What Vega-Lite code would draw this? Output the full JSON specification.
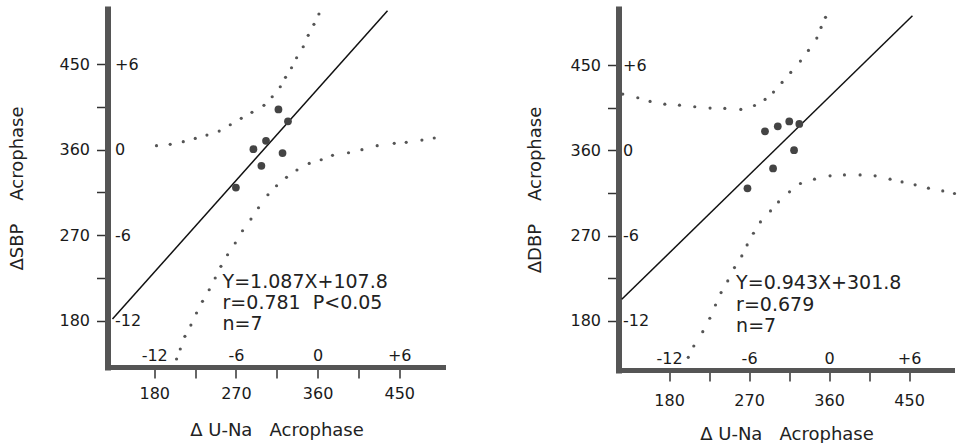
{
  "$schema": "https://vega.github.io/schema/vega-lite/v6.json",
  "background": "white",
  "padding": {"left": 8.5, "top": 7, "right": 0, "bottom": 0},
  "config": {
    "view": {"stroke": null},
    "font": "DejaVu Sans",
    "axis": {"grid": false, "labelFont": "DejaVu Sans", "titleFont": "DejaVu Sans", "labelColor": "#1a1a1a", "titleColor": "#222", "titleFontWeight": "normal", "labelFlush": false, "labelOverlap": false}
  },
  "datasets": {
    "sbp_pts": [
      {"x": 270.0, "y": 320.1}, {"x": 289.3, "y": 360.4}, {"x": 298.1, "y": 342.9}, {"x": 303.2, "y": 369.2},
      {"x": 316.9, "y": 402.3}, {"x": 321.4, "y": 356.4}, {"x": 327.4, "y": 389.7}
    ],
    "sbp_fit": [{"x": 134.0, "y": 181.7}, {"x": 437.1, "y": 506.1}],
    "sbp_band": [
      {"x": 182.5, "y": 364.1}, {"x": 197.6, "y": 365.5}, {"x": 212.0, "y": 368.3}, {"x": 225.2, "y": 371.8},
      {"x": 238.1, "y": 375.3}, {"x": 251.6, "y": 379.5}, {"x": 263.8, "y": 386.1}, {"x": 275.9, "y": 392.9},
      {"x": 287.7, "y": 399.2}, {"x": 300.9, "y": 406.6}, {"x": 310.0, "y": 415.6}, {"x": 318.9, "y": 426.1},
      {"x": 324.7, "y": 436.0}, {"x": 331.3, "y": 446.1}, {"x": 336.9, "y": 456.6}, {"x": 344.2, "y": 468.2},
      {"x": 349.7, "y": 480.2}, {"x": 356.0, "y": 491.8}, {"x": 361.5, "y": 502.6},
      {"x": 204.6, "y": 139.7}, {"x": 208.7, "y": 150.2}, {"x": 213.8, "y": 163.6}, {"x": 220.4, "y": 175.4},
      {"x": 226.6, "y": 188.1}, {"x": 233.2, "y": 200.4}, {"x": 240.6, "y": 212.6}, {"x": 247.2, "y": 224.9},
      {"x": 253.5, "y": 237.2}, {"x": 260.8, "y": 249.4}, {"x": 269.3, "y": 261.7}, {"x": 277.3, "y": 274.6},
      {"x": 286.6, "y": 286.9}, {"x": 294.9, "y": 298.8}, {"x": 305.3, "y": 312.5}, {"x": 314.8, "y": 322.0},
      {"x": 325.8, "y": 330.8}, {"x": 337.3, "y": 338.5}, {"x": 350.8, "y": 345.5}, {"x": 364.0, "y": 349.3},
      {"x": 376.5, "y": 354.0}, {"x": 394.1, "y": 356.7}, {"x": 408.9, "y": 359.9}, {"x": 425.7, "y": 364.1},
      {"x": 444.5, "y": 366.6}, {"x": 457.7, "y": 367.6}, {"x": 475.0, "y": 370.0}, {"x": 488.6, "y": 372.2}
    ],
    "dbp_pts": [
      {"x": 268.2, "y": 319.9}, {"x": 287.9, "y": 380.1}, {"x": 297.0, "y": 340.9}, {"x": 302.3, "y": 385.4},
      {"x": 315.2, "y": 390.5}, {"x": 320.6, "y": 360.2}, {"x": 326.5, "y": 387.9}
    ],
    "dbp_fit": [{"x": 126.8, "y": 202.8}, {"x": 453.8, "y": 502.1}],
    "dbp_band": [
      {"x": 127.9, "y": 419.4}, {"x": 144.8, "y": 415.5}, {"x": 158.6, "y": 411.7}, {"x": 175.2, "y": 408.8},
      {"x": 191.7, "y": 407.7}, {"x": 208.9, "y": 406.0}, {"x": 226.1, "y": 404.6}, {"x": 242.7, "y": 404.3},
      {"x": 260.7, "y": 403.2}, {"x": 276.1, "y": 407.4}, {"x": 288.0, "y": 413.8}, {"x": 297.5, "y": 421.5},
      {"x": 307.1, "y": 431.7}, {"x": 316.9, "y": 442.3}, {"x": 327.8, "y": 454.2}, {"x": 336.8, "y": 465.5},
      {"x": 346.2, "y": 478.5}, {"x": 351.0, "y": 489.8}, {"x": 356.0, "y": 500.4},
      {"x": 201.6, "y": 141.6}, {"x": 207.8, "y": 153.5}, {"x": 217.9, "y": 168.7}, {"x": 225.8, "y": 182.8},
      {"x": 232.2, "y": 196.8}, {"x": 238.5, "y": 209.9}, {"x": 246.0, "y": 222.2}, {"x": 253.6, "y": 236.3},
      {"x": 261.8, "y": 248.6}, {"x": 267.8, "y": 260.2}, {"x": 274.9, "y": 272.5}, {"x": 282.8, "y": 284.5},
      {"x": 294.1, "y": 296.1}, {"x": 303.1, "y": 305.6}, {"x": 315.5, "y": 316.2}, {"x": 327.8, "y": 325.0},
      {"x": 343.6, "y": 329.6}, {"x": 361.1, "y": 333.1}, {"x": 377.3, "y": 334.1}, {"x": 394.9, "y": 334.1},
      {"x": 411.8, "y": 333.1}, {"x": 428.6, "y": 329.6}, {"x": 442.1, "y": 326.7}, {"x": 456.8, "y": 323.6},
      {"x": 471.8, "y": 320.1}, {"x": 487.9, "y": 317.2}, {"x": 501.1, "y": 314.5}
    ]
  },
  "spacing": 81,
  "hconcat": [
    {
      "width": 338,
      "height": 358,
      "layer": [
        {
          "data": {"name": "sbp_band"},
          "mark": {"type": "circle", "size": 10, "color": "#555", "opacity": 1},
          "encoding": {
            "x": {"field": "x", "type": "quantitative", "scale": {"domain": [128.5, 501], "nice": false, "zero": false},
              "axis": {"orient": "bottom", "values": [180, 225, 270, 315, 360, 405, 450], "labelExpr": "datum.value % 90 == 0 ? datum.label : ''",
                "tickSize": 11, "tickWidth": 1.5, "tickColor": "#333", "domainWidth": 5, "domainColor": "#555", "domainCap": "butt",
                "labelFontSize": 16, "labelPadding": 7, "title": "Δ U-Na\u00a0\u00a0\u00a0Acrophase", "titleFontSize": 18, "titlePadding": 20}},
            "y": {"field": "y", "type": "quantitative", "scale": {"domain": [131.3, 507.9], "nice": false, "zero": false},
              "axis": {"orient": "left", "values": [180, 225, 270, 315, 360, 405, 450], "labelExpr": "datum.value % 90 == 0 ? datum.label : ''",
                "tickSize": 11, "tickWidth": 1.5, "tickColor": "#333", "domainWidth": 6, "domainColor": "#555", "domainCap": "square",
                "labelFontSize": 16, "labelPadding": 7, "title": "ΔSBP\u00a0\u00a0\u00a0\u00a0Acrophase", "titleFontSize": 18, "titlePadding": 32}}
          }
        },
        {
          "data": {"name": "sbp_fit"},
          "mark": {"type": "line", "color": "#111", "strokeWidth": 1.5},
          "encoding": {
            "x": {"field": "x", "type": "quantitative",
              "axis": {"orient": "bottom", "values": [180, 270, 360, 450], "labelExpr": "datum.value > 360 ? '+' + (datum.value - 360) / 15 : '' + (datum.value - 360) / 15",
                "ticks": false, "domain": false, "labelBaseline": "alphabetic", "labelPadding": -7, "labelFontSize": 16, "title": null}},
            "y": {"field": "y", "type": "quantitative",
              "axis": {"orient": "left", "values": [180, 270, 360, 450], "labelExpr": "datum.value > 360 ? '+' + (datum.value - 360) / 15 : '' + (datum.value - 360) / 15",
                "ticks": false, "domain": false, "labelAlign": "left", "labelBaseline": "middle", "labelPadding": -7, "labelFontSize": 16, "title": null}}
          }
        },
        {
          "data": {"name": "sbp_pts"},
          "mark": {"type": "circle", "size": 60, "color": "#444", "opacity": 1},
          "encoding": {
            "x": {"field": "x", "type": "quantitative", "axis": null},
            "y": {"field": "y", "type": "quantitative", "axis": null}
          }
        },
        {
          "data": {"values": [{}]},
          "mark": {"type": "text", "align": "left", "baseline": "alphabetic", "fontSize": 19, "lineHeight": 21, "font": "DejaVu Sans", "color": "#222"},
          "encoding": {
            "x": {"datum": 255.3, "type": "quantitative", "axis": null},
            "y": {"datum": 214.8, "type": "quantitative", "axis": null},
            "text": {"value": ["Y=1.087X+107.8", "r=0.781\u00a0\u00a0P<0.05", "n=7"]}
          }
        }
      ],
      "resolve": {"axis": {"x": "independent", "y": "independent"}}
    },
    {
      "width": 336,
      "height": 361,
      "layer": [
        {
          "data": {"name": "dbp_band"},
          "mark": {"type": "circle", "size": 10, "color": "#555", "opacity": 1},
          "encoding": {
            "x": {"field": "x", "type": "quantitative", "scale": {"domain": [123.1, 501.1], "nice": false, "zero": false},
              "axis": {"orient": "bottom", "values": [180, 225, 270, 315, 360, 405, 450], "labelExpr": "datum.value % 90 == 0 ? datum.label : ''",
                "tickSize": 11, "tickWidth": 1.5, "tickColor": "#333", "domainWidth": 5, "domainColor": "#555", "domainCap": "butt",
                "labelFontSize": 16, "labelPadding": 11, "title": "Δ U-Na\u00a0\u00a0\u00a0Acrophase", "titleFontSize": 18, "titlePadding": 17}},
            "y": {"field": "y", "type": "quantitative", "scale": {"domain": [128.2, 509.2], "nice": false, "zero": false},
              "axis": {"orient": "left", "values": [180, 225, 270, 315, 360, 405, 450], "labelExpr": "datum.value % 90 == 0 ? datum.label : ''",
                "tickSize": 11, "tickWidth": 1.5, "tickColor": "#333", "domainWidth": 6, "domainColor": "#555", "domainCap": "square",
                "labelFontSize": 16, "labelPadding": 7, "title": "ΔDBP\u00a0\u00a0\u00a0\u00a0Acrophase", "titleFontSize": 18, "titlePadding": 25}}
          }
        },
        {
          "data": {"name": "dbp_fit"},
          "mark": {"type": "line", "color": "#111", "strokeWidth": 1.5},
          "encoding": {
            "x": {"field": "x", "type": "quantitative",
              "axis": {"orient": "bottom", "values": [180, 270, 360, 450], "labelExpr": "datum.value > 360 ? '+' + (datum.value - 360) / 15 : '' + (datum.value - 360) / 15",
                "ticks": false, "domain": false, "labelBaseline": "alphabetic", "labelPadding": -7, "labelFontSize": 16, "title": null}},
            "y": {"field": "y", "type": "quantitative",
              "axis": {"orient": "left", "values": [180, 270, 360, 450], "labelExpr": "datum.value > 360 ? '+' + (datum.value - 360) / 15 : '' + (datum.value - 360) / 15",
                "ticks": false, "domain": false, "labelAlign": "left", "labelBaseline": "middle", "labelPadding": -4, "labelFontSize": 16, "title": null}}
          }
        },
        {
          "data": {"name": "dbp_pts"},
          "mark": {"type": "circle", "size": 60, "color": "#444", "opacity": 1},
          "encoding": {
            "x": {"field": "x", "type": "quantitative", "axis": null},
            "y": {"field": "y", "type": "quantitative", "axis": null}
          }
        },
        {
          "data": {"values": [{}]},
          "mark": {"type": "text", "align": "left", "baseline": "alphabetic", "fontSize": 19, "lineHeight": 21.5, "font": "DejaVu Sans", "color": "#222"},
          "encoding": {
            "x": {"datum": 255.4, "type": "quantitative", "axis": null},
            "y": {"datum": 213.2, "type": "quantitative", "axis": null},
            "text": {"value": ["Y=0.943X+301.8", "r=0.679", "n=7"]}
          }
        }
      ],
      "resolve": {"axis": {"x": "independent", "y": "independent"}}
    }
  ]
}
